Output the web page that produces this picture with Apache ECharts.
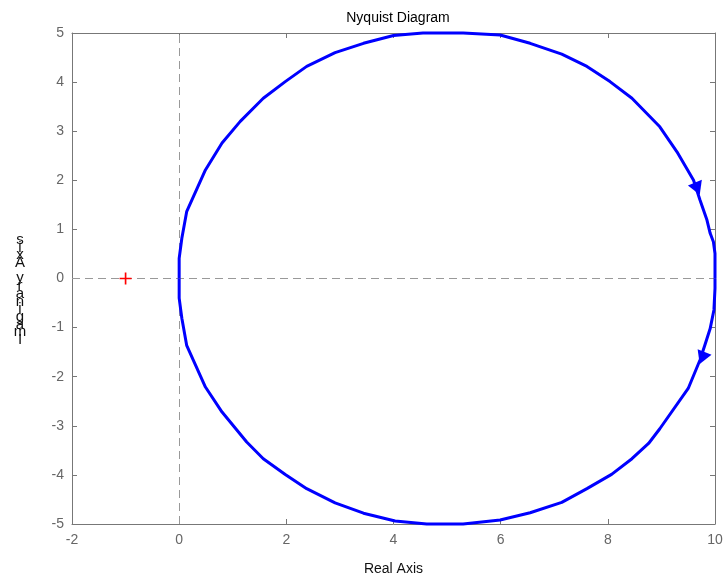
<!DOCTYPE html>
<html>
<head>
<meta charset="utf-8">
<title>Nyquist Diagram</title>
<script src="https://cdn.jsdelivr.net/npm/echarts@6/dist/echarts.min.js"></script>
<style>
  html, body { margin: 0; padding: 0; background: #fff; }
  #nyquist { width: 727px; height: 582px; }
</style>
</head>
<body>
<div id="nyquist"></div>
<script>
// axis ranges / ticks
const xTicks = [-2, 0, 2, 4, 6, 8, 10];
const yTicks = [-5, -4, -3, -2, -1, 0, 1, 2, 3, 4, 5];

// negative frequencies: (0,0) -> top of circle -> (10,0)
const upperCurve = [
  [0, 0], [0.0, 0.41], [0.05, 0.82], [0.14, 1.36], [0.49, 2.21], [0.80, 2.76],
  [1.14, 3.20], [1.57, 3.67], [1.98, 4.01], [2.38, 4.32], [2.91, 4.60],
  [3.44, 4.79], [4.00, 4.95], [4.55, 5.0], [5.30, 5.0], [5.99, 4.96],
  [6.55, 4.79], [7.14, 4.57], [7.61, 4.32], [8.04, 4.01], [8.45, 3.67],
  [8.97, 3.09], [9.29, 2.58], [9.60, 2.00], [9.72, 1.60], [9.85, 1.19],
  [9.91, 0.92], [9.97, 0.75], [10.0, 0.51], [10.0, 0]
];

// positive frequencies: (10,0) -> bottom of circle -> (0,0)
const lowerCurve = [
  [10.0, 0], [10.0, -0.20], [9.98, -0.64], [9.91, -1.02], [9.81, -1.36],
  [9.72, -1.66], [9.50, -2.24], [8.97, -3.06], [8.76, -3.36], [8.45, -3.67],
  [8.07, -3.99], [7.61, -4.28], [7.14, -4.56], [6.55, -4.77], [5.99, -4.92],
  [5.30, -5.0], [4.62, -5.0], [4.03, -4.94], [3.44, -4.78], [2.91, -4.57],
  [2.38, -4.28], [1.98, -3.99], [1.57, -3.67], [1.26, -3.33], [0.80, -2.72],
  [0.49, -2.21], [0.14, -1.36], [0.05, -0.81], [0.0, -0.40], [0, 0]
];

// direction arrows (centre of the triangle) and their rotation
const arrowPoints = [[9.67, 1.83], [9.76, -1.62]];
const arrowRotate = [-158, 158];

// critical point
const criticalPoint = [[-1, 0]];

const axisGrey = '#777';
const labelGrey = '#666';
const font = 'Liberation Sans, Arial, sans-serif';

let chart = echarts.init(document.getElementById('nyquist'));

const boxAxis = (extra) => Object.assign({
  type: 'value',
  axisLine: { show: true, onZero: false, lineStyle: { color: axisGrey, width: 1 } },
  axisTick: { show: true, inside: true, length: 5, lineStyle: { color: axisGrey } },
  splitLine: { show: false }
}, extra);

const option = {
  animation: false,
  title: {
    text: 'Nyquist Diagram',
    left: 393, top: 6, textAlign: 'center',
    textStyle: { fontSize: 14, fontWeight: 'normal', color: '#000', fontFamily: font }
  },
  grid: { left: 72, right: 12, top: 33, bottom: 58 },
  xAxis: [
    boxAxis({
      min: xTicks[0], max: xTicks[xTicks.length - 1], interval: 2, position: 'bottom',
      name: 'Real Axis', nameLocation: 'middle', nameGap: 38,
      nameTextStyle: { fontSize: 14, color: '#111', fontFamily: font },
      axisLabel: { fontSize: 14, color: labelGrey, margin: 9, fontFamily: font }
    }),
    boxAxis({
      min: xTicks[0], max: xTicks[xTicks.length - 1], interval: 2, position: 'top',
      axisLabel: { show: false }
    })
  ],
  yAxis: [
    boxAxis({
      min: yTicks[0], max: yTicks[yTicks.length - 1], interval: 1, position: 'left',
      axisLabel: { fontSize: 14, color: labelGrey, margin: 8, fontFamily: font }
    }),
    boxAxis({
      min: yTicks[0], max: yTicks[yTicks.length - 1], interval: 1, position: 'right',
      axisLabel: { show: false }
    })
  ],
  graphic: [{
    // the y label as it was drawn: upright letters stacked bottom to top
    type: 'text',
    x: 20, y: 236,
    style: {
      text: 'Imaginary Axis'.split('').reverse().join('\n'),
      fontSize: 15, lineHeight: 7.7, fill: '#111', fontFamily: font,
      align: 'center'
    }
  }],
  series: [
    {
      type: 'line', name: 'axes', data: [], silent: true, z: 1,
      markLine: {
        silent: true, symbol: 'none', label: { show: false }, z: 1,
        lineStyle: { color: '#999', type: [8, 5], width: 1 },
        data: [{ xAxis: 0 }, { yAxis: 0 }]
      }
    },
    {
      type: 'line', data: upperCurve, showSymbol: false, clip: false, z: 3,
      lineStyle: { color: '#0000ff', width: 3 }
    },
    {
      type: 'line', data: lowerCurve, showSymbol: false, clip: false, z: 3,
      lineStyle: { color: '#0000ff', width: 3 }
    },
    {
      type: 'scatter', z: 4,
      data: arrowPoints.map((p, i) => ({ value: p, symbolRotate: arrowRotate[i] })),
      symbol: 'triangle', symbolSize: [15, 13],
      itemStyle: { color: '#0000ff', opacity: 1 }
    },
    {
      type: 'scatter', data: criticalPoint, z: 5,
      symbol: 'path://M5,0L6.6,0L6.6,5L11.6,5L11.6,6.6L6.6,6.6L6.6,11.6L5,11.6L5,6.6L0,6.6L0,5L5,5Z',
      symbolSize: 12,
      itemStyle: { color: '#ff0000', opacity: 1 }
    }
  ]
};

chart.setOption(option);
</script>
</body>
</html>
